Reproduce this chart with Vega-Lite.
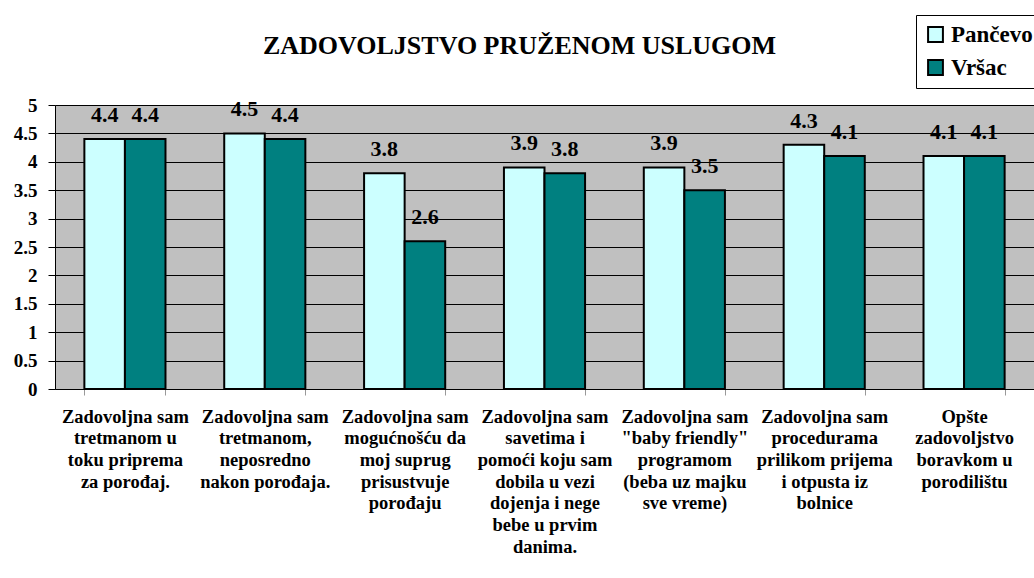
{
  "$schema": "https://vega.github.io/schema/vega-lite/v6.json",
  "width": 979,
  "height": 284,
  "autosize": {"type": "none"},
  "padding": {"left": 55, "top": 105, "right": 0, "bottom": 189},
  "background": "white",
  "title": {
    "text": "ZADOVOLJSTVO PRUŽENOM USLUGOM",
    "font": "Liberation Serif",
    "fontSize": 26,
    "fontWeight": "bold",
    "color": "black",
    "anchor": "middle",
    "frame": "group",
    "baseline": "alphabetic",
    "dx": -25,
    "offset": -65
  },
  "data": {
    "values": [
      {"cat": "Zadovoljna sam|tretmanom u|toku priprema|za porođaj.", "grad": "Pančevo", "v": 4.4},
      {"cat": "Zadovoljna sam|tretmanom u|toku priprema|za porođaj.", "grad": "Vršac", "v": 4.4},
      {"cat": "Zadovoljna sam|tretmanom,|neposredno|nakon porođaja.", "grad": "Pančevo", "v": 4.5},
      {"cat": "Zadovoljna sam|tretmanom,|neposredno|nakon porođaja.", "grad": "Vršac", "v": 4.4},
      {"cat": "Zadovoljna sam|mogućnošću da|moj suprug|prisustvuje|porođaju", "grad": "Pančevo", "v": 3.8},
      {"cat": "Zadovoljna sam|mogućnošću da|moj suprug|prisustvuje|porođaju", "grad": "Vršac", "v": 2.6},
      {"cat": "Zadovoljna sam|savetima i|pomoći koju sam|dobila u vezi|dojenja i nege|bebe u prvim|danima.", "grad": "Pančevo", "v": 3.9},
      {"cat": "Zadovoljna sam|savetima i|pomoći koju sam|dobila u vezi|dojenja i nege|bebe u prvim|danima.", "grad": "Vršac", "v": 3.8},
      {"cat": "Zadovoljna sam|\"baby friendly\"|programom|(beba uz majku|sve vreme)", "grad": "Pančevo", "v": 3.9},
      {"cat": "Zadovoljna sam|\"baby friendly\"|programom|(beba uz majku|sve vreme)", "grad": "Vršac", "v": 3.5},
      {"cat": "Zadovoljna sam|procedurama|prilikom prijema|i otpusta iz|bolnice", "grad": "Pančevo", "v": 4.3},
      {"cat": "Zadovoljna sam|procedurama|prilikom prijema|i otpusta iz|bolnice", "grad": "Vršac", "v": 4.1},
      {"cat": "Opšte|zadovoljstvo|boravkom u|porodilištu", "grad": "Pančevo", "v": 4.1},
      {"cat": "Opšte|zadovoljstvo|boravkom u|porodilištu", "grad": "Vršac", "v": 4.1}
    ]
  },
  "encoding": {
    "x": {
      "field": "cat",
      "type": "nominal",
      "sort": null,
      "title": null,
      "scale": {"paddingInner": 0.42, "paddingOuter": 0.21},
      "axis": {
        "labelAngle": 0,
        "labelExpr": "split(datum.label, '|')",
        "labelFont": "Liberation Serif",
        "labelFontWeight": "bold",
        "labelFontSize": 18.5,
        "labelLineHeight": 21.7,
        "labelColor": "black",
        "labelPadding": 12,
        "labelLimit": 300,
        "labelBaseline": "top",
        "tickBand": "extent",
        "tickSize": 6,
        "tickColor": "#999999",
        "domainColor": "black",
        "domainWidth": 1
      }
    },
    "xOffset": {"field": "grad", "type": "nominal", "sort": ["Pančevo", "Vršac"], "scale": {"paddingInner": 0}},
    "y": {
      "field": "v",
      "type": "quantitative",
      "title": null,
      "scale": {"domain": [0, 5]},
      "axis": {
        "values": [0, 0.5, 1, 1.5, 2, 2.5, 3, 3.5, 4, 4.5, 5],
        "format": "~g",
        "grid": true,
        "gridColor": "black",
        "gridOpacity": 1,
        "gridWidth": 1,
        "domainColor": "black",
        "tickColor": "black",
        "tickSize": 7,
        "labelFont": "Liberation Serif",
        "labelFontWeight": "bold",
        "labelFontSize": 19,
        "labelColor": "black",
        "labelPadding": 11
      }
    }
  },
  "layer": [
    {
      "mark": {"type": "bar", "stroke": "black", "strokeWidth": 2},
      "encoding": {
        "color": {
          "field": "grad",
          "type": "nominal",
          "scale": {"domain": ["Pančevo", "Vršac"], "range": ["#CCFFFF", "#008080"]},
          "legend": {
            "orient": "none",
            "legendX": 861,
            "legendY": -90,
            "title": null,
            "strokeColor": "black",
            "fillColor": "white",
            "padding": 8,
            "labelFont": "Liberation Serif",
            "labelFontWeight": "bold",
            "labelFontSize": 23,
            "labelColor": "black",
            "symbolType": "square",
            "symbolSize": 220,
            "symbolStrokeColor": "black",
            "symbolStrokeWidth": 2,
            "symbolOpacity": 1,
            "rowPadding": 9,
            "labelOffset": 4
          }
        }
      }
    },
    {
      "mark": {
        "type": "text",
        "baseline": "alphabetic",
        "dy": -17,
        "font": "Liberation Serif",
        "fontWeight": "bold",
        "fontSize": 22,
        "color": "black"
      },
      "encoding": {
        "text": {"field": "v", "type": "quantitative", "format": ".1f"}
      }
    }
  ],
  "config": {
    "view": {"fill": "#C0C0C0", "stroke": null}
  }
}
